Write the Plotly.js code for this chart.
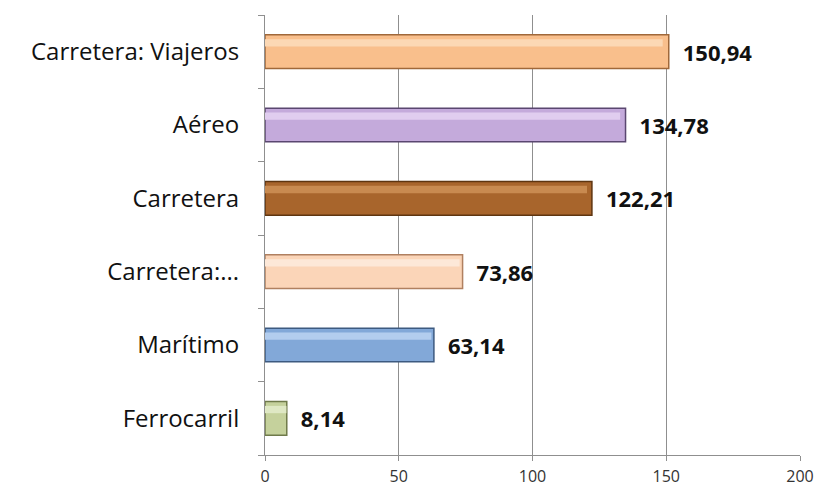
<!DOCTYPE html>
<html><head><meta charset="utf-8">
<script src="https://cdn.plot.ly/plotly-3.0.1.min.js"></script>
<style>body{margin:0;background:#fff}#c{width:822px;height:486px}</style>
</head><body><div id="c"></div>
<script>
const categories = ["Ferrocarril", "Marítimo", "Carretera:...", "Carretera", "Aéreo", "Carretera: Viajeros"];
const values = [8.14, 63.14, 73.86, 122.21, 134.78, 150.94];
const barColors = ["#c5d19c", "#82a8d8", "#fbd5b8", "#a8652c", "#c4aadb", "#f9bf8c"];
const highlightColors = ["#dfe8c4", "#b3cdee", "#fde8d8", "#c88a50", "#e0cdef", "#fcd8b4"];
const edgeColors = ["#6f7a4a", "#3d5a80", "#b08060", "#5e3510", "#5a4770", "#a0683a"];
const tickVals = [0, 50, 100, 150, 200];

const font = "'Open Sans', Lato, sans-serif";
const trace = {
  type: "bar", orientation: "h",
  y: categories, x: values,
  width: 0.46,
  marker: {color: barColors, line: {color: edgeColors, width: 1.5}},
  text: values.map(v => "\u2002" + v.toFixed(2).replace(".", ",")),
  textposition: "outside",
  cliponaxis: false,
  textfont: {family: font, size: 22, color: "#111", weight: 700},
  hoverinfo: "skip"
};
const highlight = {
  type: "bar", orientation: "h",
  y: categories, x: values.map(v => v * 0.985),
  width: 0.1, offset: 0.07,
  marker: {color: highlightColors, line: {width: 0}},
  hoverinfo: "skip"
};
const layout = {
  width: 822, height: 486,
  margin: {l: 265, r: 22, t: 15, b: 31},
  paper_bgcolor: "#fff", plot_bgcolor: "#fff",
  showlegend: false,
  barmode: "overlay",
  separators: ",.",
  xaxis: {range: [0, 200], tickvals: tickVals, showgrid: true, gridcolor: "#8f8f8f", gridwidth: 1,
    zeroline: false, showline: true, linecolor: "#8f8f8f", ticks: "outside", ticklen: 5, tickcolor: "#8f8f8f",
    ticklabelstandoff: 2,
    tickfont: {family: font, size: 16, color: "#333"}, fixedrange: true},
  yaxis: {showgrid: false, showline: true, linecolor: "#8f8f8f", ticks: "outside", tickson: "boundaries",
    ticklen: 6, tickcolor: "#8f8f8f", zeroline: false, ticklabelstandoff: 20,
    tickfont: {family: font, size: 24, color: "#111"}, automargin: false, fixedrange: true}
};
Plotly.newPlot("c", [trace, highlight], layout, {displayModeBar: false, staticPlot: true});
</script></body></html>
